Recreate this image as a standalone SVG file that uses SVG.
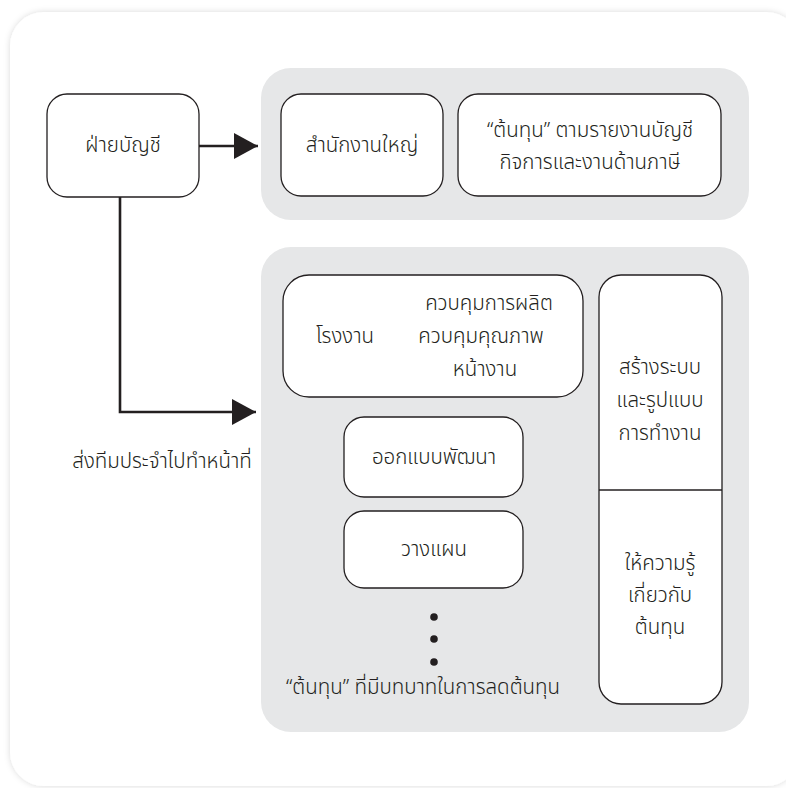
<svg xmlns="http://www.w3.org/2000/svg" width="786" height="788" viewBox="0 0 786 788">
<defs>
<filter id="sh" x="-5%" y="-5%" width="110%" height="110%">
<feDropShadow dx="0" dy="0" stdDeviation="3" flood-color="#000" flood-opacity="0.15"/>
</filter>
<marker id="ah" markerWidth="24" markerHeight="26" refX="24" refY="13" orient="auto" markerUnits="userSpaceOnUse">
<path d="M0,0 L24,13 L0,26 Z" fill="#231f20"/>
</marker>
</defs>
<style>
.panel{fill:#e6e7e8}
.box{fill:#fff;stroke:#231f20;stroke-width:1.3}
.t{font-family:"Noto Sans Thai","Noto Sans","DejaVu Sans",sans-serif;font-size:20.5px;font-weight:300;fill:#231f20;text-anchor:middle}
.conn{fill:none;stroke:#231f20;stroke-width:2.6}
</style>
<rect x="0" y="0" width="786" height="788" fill="#fff"/>
<rect x="10" y="12" width="790" height="774" rx="34" fill="#fff" filter="url(#sh)"/>
<g id="panel-top"><rect class="panel" x="261" y="68" width="488" height="152" rx="30"/></g>
<g id="panel-bottom"><rect class="panel" x="261" y="247" width="488" height="485" rx="30"/></g>

<g id="accounting">
<rect class="box" x="47" y="94" width="152" height="103" rx="20"/>
<text class="t" x="123" y="152">ฝ่ายบัญชี</text>
</g>
<g id="head-office">
<rect class="box" x="281" y="94" width="162" height="102" rx="20"/>
<text class="t" x="362" y="152">สำนักงานใหญ่</text>
</g>
<g id="cost-report">
<rect class="box" x="458" y="94" width="263" height="102" rx="20"/>
<text class="t" x="590" y="137">“ต้นทุน” ตามรายงานบัญชี</text>
<text class="t" x="590" y="169">กิจการและงานด้านภาษี</text>
</g>
<g id="factory">
<rect class="box" x="283" y="275" width="300" height="122" rx="26"/>
<text class="t" x="345" y="343">โรงงาน</text>
<text class="t" x="489" y="310">ควบคุมการผลิต</text>
<text class="t" x="481" y="343">ควบคุมคุณภาพ</text>
<text class="t" x="485" y="376">หน้างาน</text>
</g>
<g id="side">
<rect class="box" x="599" y="275" width="123" height="429" rx="22"/>
<line x1="599" y1="490" x2="722" y2="490" stroke="#231f20" stroke-width="1.3"/>
<text class="t" x="660" y="374">สร้างระบบ</text>
<text class="t" x="660" y="407">และรูปแบบ</text>
<text class="t" x="660" y="440">การทำงาน</text>
<text class="t" x="660" y="570">ให้ความรู้</text>
<text class="t" x="660" y="602">เกี่ยวกับ</text>
<text class="t" x="660" y="634">ต้นทุน</text>
</g>
<g id="design">
<rect class="box" x="344" y="417" width="179" height="80" rx="20"/>
<text class="t" x="434" y="464">ออกแบบพัฒนา</text>
</g>
<g id="planning">
<rect class="box" x="344" y="511" width="179" height="77" rx="20"/>
<text class="t" x="434" y="556">วางแผน</text>
</g>
<g id="more">
<circle cx="434" cy="617" r="3.8" fill="#231f20"/>
<circle cx="434" cy="639" r="3.8" fill="#231f20"/>
<circle cx="434" cy="662" r="3.8" fill="#231f20"/>
<text class="t" x="423" y="694">“ต้นทุน” ที่มีบทบาทในการลดต้นทุน</text>
</g>
<g id="connectors">
<path class="conn" d="M199,146 L258,146" marker-end="url(#ah)"/>
<path class="conn" d="M120,197 L120,412 L256,412" marker-end="url(#ah)"/>
<text class="t" x="162" y="468">ส่งทีมประจำไปทำหน้าที่</text>
</g>
</svg>
